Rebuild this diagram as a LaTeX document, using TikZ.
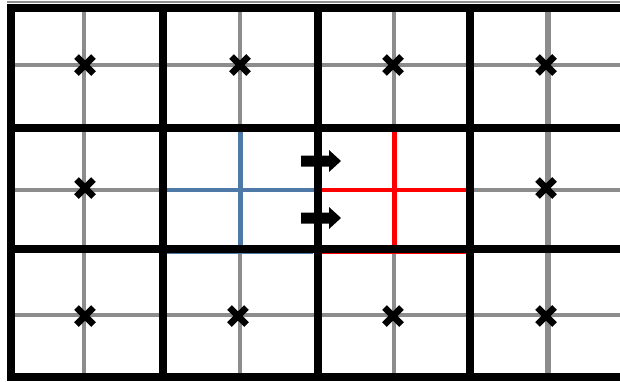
\documentclass[tikz,border=0pt]{standalone}
\begin{document}
\begin{tikzpicture}[x=1pt,y=-1pt,
  thick/.style={line width=8.5pt,black},
  grid/.style={line width=4.5pt,color=gridgray},
  blueline/.style={line width=4.5pt,color=cellblue},
  redline/.style={line width=4.5pt,color=red},
  crossmark/.pic={\draw[line width=6.5pt,black] (-8.5,-8.5) -- (8.5,8.5) (-8.5,8.5) -- (8.5,-8.5);},
  blockarrow/.pic={\fill[black] (-19,-5.5) -- (9,-5.5) -- (9,-11) -- (21,0) -- (9,11) -- (9,5.5) -- (-19,5.5) -- cycle;}
]
\definecolor{gridgray}{HTML}{8C8C8C}
\definecolor{cellblue}{HTML}{4F7AA8}
\useasboundingbox (0,0) rectangle (620,381);
\fill[white] (0,0) rectangle (620,381);
% thin gray top edge
\draw[gridgray,line width=2pt] (7,1.5) -- (620,1.5);
% gray grid lines
\draw[grid] (84,8) -- (84,377);
\draw[grid] (240,8) -- (240,128) (240,249) -- (240,377);
\draw[grid] (394,8) -- (394,128) (394,249) -- (394,377);
\draw[grid,line width=6pt] (548,8) -- (548,377);
\draw[grid] (11,65) -- (620,65);
\draw[grid] (11,190) -- (163,190) (470,190) -- (620,190);
\draw[grid] (11,315) -- (620,315);
% blue cell
\draw[blueline,line width=5pt] (240,128) -- (240,249);
\draw[blueline] (163,190) -- (318,190);
\draw[cellblue,line width=1.5pt] (167,253) -- (313,253);
% red cell
\draw[redline,line width=5pt] (394,128) -- (394,249);
\draw[redline] (318,190) -- (470,190);
\draw[red,line width=1.5pt] (322,253) -- (466,253);
% thick cell borders
\draw[thick] (7,8) -- (620,8);
\draw[thick] (7,128) -- (620,128);
\draw[thick] (7,249) -- (620,249);
\draw[thick] (7,377) -- (620,377);
\draw[thick] (11,4) -- (11,381);
\draw[thick] (163,4) -- (163,381);
\draw[thick] (318,4) -- (318,381);
\draw[thick] (470,4) -- (470,381);
% crosses
\pic at (85,65) {crossmark};
\pic at (240,65) {crossmark};
\pic at (393,65) {crossmark};
\pic at (546,65) {crossmark};
\pic at (85,188) {crossmark};
\pic at (546,188) {crossmark};
\pic at (85,316) {crossmark};
\pic at (238,316) {crossmark};
\pic at (393,316) {crossmark};
\pic at (546,316) {crossmark};
% arrows
\pic at (320,161) {blockarrow};
\pic at (320,218) {blockarrow};
\end{tikzpicture}
\end{document}
